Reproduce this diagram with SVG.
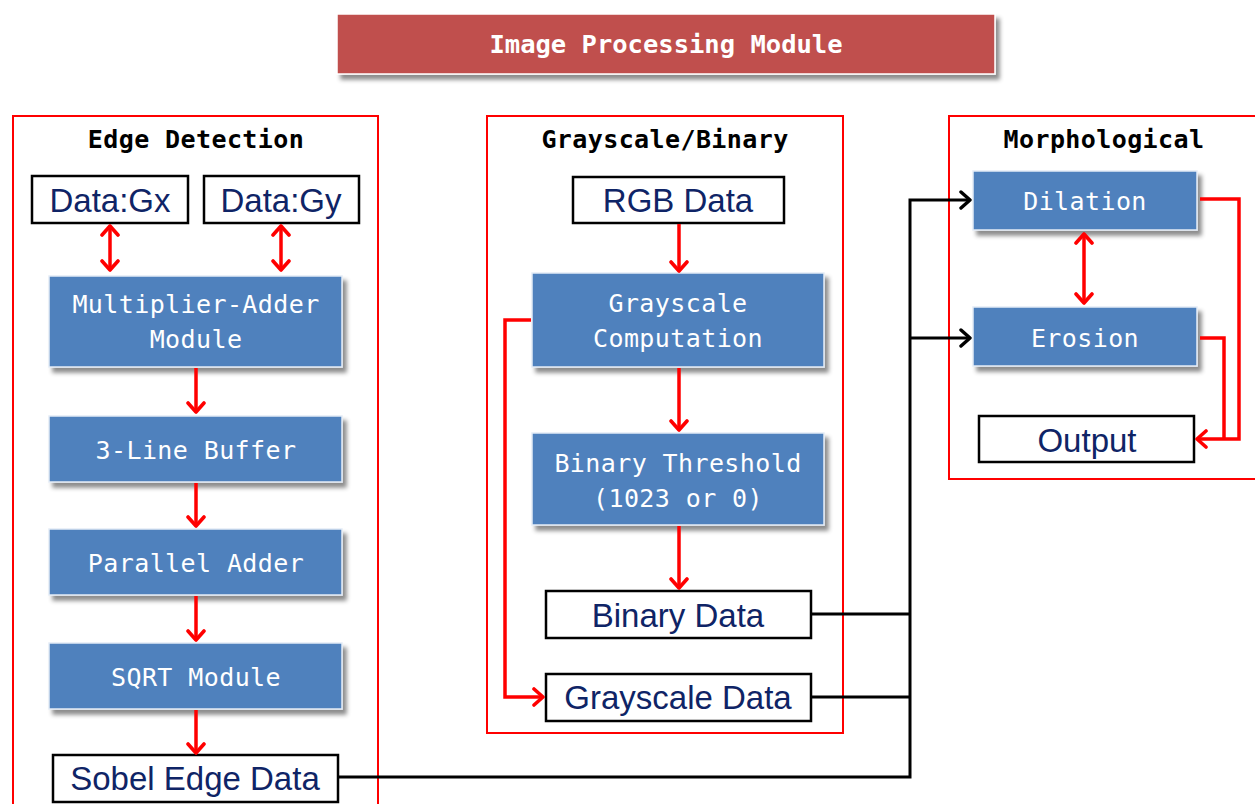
<svg xmlns="http://www.w3.org/2000/svg" width="1255" height="804" viewBox="0 0 1255 804">
  <style>
    .frame { fill: none; stroke: #FF0000; stroke-width: 2; }
    .block { fill: #4F81BD; stroke: #E4ECF6; stroke-width: 1.5; filter: url(#shadow); }
    .data { fill: #FFFFFF; stroke: #000000; stroke-width: 2.5; }
    .mono { font-family: "DejaVu Sans Mono", "Liberation Mono", monospace; font-size: 25px; letter-spacing: 0.4px; text-anchor: middle; }
    .btxt { fill: #FFFFFF; }
    .head { fill: #000000; font-weight: bold; }
    .dtxt { font-family: "Liberation Sans", Arial, sans-serif; font-size: 33px; fill: #0F2466; text-anchor: middle; }
    .red { fill: none; stroke: #FF0000; stroke-width: 3.5; }
    .blk { fill: none; stroke: #000000; stroke-width: 3; }
  </style>
  <defs>
    <filter id="shadow" x="-10%" y="-10%" width="130%" height="140%">
      <feDropShadow dx="4" dy="5" stdDeviation="2" flood-color="#000000" flood-opacity="0.45"/>
    </filter>
    <marker id="ar" viewBox="0 0 20 20" refX="12" refY="10" markerWidth="20" markerHeight="20" markerUnits="userSpaceOnUse" orient="auto-start-reverse">
      <path d="M3,2 L12,10 L3,18" fill="none" stroke="#FF0000" stroke-width="3.6" stroke-linecap="round" stroke-linejoin="round"/>
    </marker>
    <marker id="ak" viewBox="0 0 20 20" refX="12" refY="10" markerWidth="20" markerHeight="20" markerUnits="userSpaceOnUse" orient="auto">
      <path d="M3,2 L12,10 L3,18" fill="none" stroke="#000000" stroke-width="3.4" stroke-linecap="round" stroke-linejoin="round"/>
    </marker>
  </defs>

  <rect width="1255" height="804" fill="#FFFFFF"/>

  <!-- banner -->
  <g id="title">
    <rect x="337" y="14" width="658" height="60" fill="#C0504D" stroke="#FFFFFF" stroke-width="1.5" filter="url(#shadow)"/>
    <text x="666" y="53" class="mono btxt" style="font-size:25.5px;letter-spacing:0;font-weight:bold">Image Processing Module</text>
  </g>

  <!-- section frames -->
  <g id="edge-detection">
    <rect x="13" y="116" width="365" height="710" class="frame"/>
    <text x="196" y="148" class="mono head">Edge Detection</text>
  </g>
  <g id="grayscale-binary">
    <rect x="487" y="116" width="356" height="617" class="frame"/>
    <text x="665" y="148" class="mono head">Grayscale/Binary</text>
  </g>
  <g id="morphological">
    <rect x="949" y="116" width="330" height="363" class="frame"/>
    <text x="1104" y="148" class="mono head">Morphological</text>
  </g>

  <!-- edge detection nodes -->
  <g id="data-gx">
    <rect x="32" y="176" width="156" height="47" class="data"/>
    <text x="110" y="212" class="dtxt">Data:Gx</text>
  </g>
  <g id="data-gy">
    <rect x="204" y="176" width="155" height="47" class="data"/>
    <text x="281" y="212" class="dtxt">Data:Gy</text>
  </g>
  <g id="mult-adder">
    <rect x="49" y="276" width="293" height="91" class="block"/>
    <text x="196" y="313" class="mono btxt">Multiplier-Adder</text>
    <text x="196" y="348" class="mono btxt">Module</text>
  </g>
  <g id="line-buffer">
    <rect x="49" y="416" width="293" height="66" class="block"/>
    <text x="196" y="459" class="mono btxt">3-Line Buffer</text>
  </g>
  <g id="parallel-adder">
    <rect x="49" y="529" width="293" height="66" class="block"/>
    <text x="196" y="572" class="mono btxt">Parallel Adder</text>
  </g>
  <g id="sqrt-module">
    <rect x="49" y="643" width="293" height="66" class="block"/>
    <text x="196" y="686" class="mono btxt">SQRT Module</text>
  </g>
  <g id="sobel-data">
    <rect x="53" y="755" width="285" height="47" class="data"/>
    <text x="195" y="790" class="dtxt">Sobel Edge Data</text>
  </g>

  <!-- grayscale/binary nodes -->
  <g id="rgb-data">
    <rect x="573" y="177" width="211" height="46" class="data"/>
    <text x="678" y="212" class="dtxt">RGB Data</text>
  </g>
  <g id="gray-comp">
    <rect x="532" y="273" width="292" height="94" class="block"/>
    <text x="678" y="312" class="mono btxt">Grayscale</text>
    <text x="678" y="347" class="mono btxt">Computation</text>
  </g>
  <g id="bin-threshold">
    <rect x="532" y="433" width="292" height="92" class="block"/>
    <text x="678" y="472" class="mono btxt">Binary Threshold</text>
    <text x="678" y="507" class="mono btxt">(1023 or 0)</text>
  </g>
  <g id="binary-data">
    <rect x="546" y="591" width="265" height="47" class="data"/>
    <text x="678" y="627" class="dtxt">Binary Data</text>
  </g>
  <g id="gray-data">
    <rect x="546" y="674" width="265" height="47" class="data"/>
    <text x="678" y="709" class="dtxt">Grayscale Data</text>
  </g>

  <!-- morphological nodes -->
  <g id="dilation">
    <rect x="973" y="171" width="224" height="59" class="block"/>
    <text x="1085" y="210" class="mono btxt">Dilation</text>
  </g>
  <g id="erosion">
    <rect x="973" y="307" width="224" height="59" class="block"/>
    <text x="1085" y="347" class="mono btxt">Erosion</text>
  </g>
  <g id="output">
    <rect x="979" y="416" width="215" height="46" class="data"/>
    <text x="1087" y="452" class="dtxt">Output</text>
  </g>

  <!-- connectors -->
  <g id="connectors">
    <!-- edge detection chain -->
    <path d="M110,226 V270" class="red" marker-start="url(#ar)" marker-end="url(#ar)"/>
    <path d="M281,226 V270" class="red" marker-start="url(#ar)" marker-end="url(#ar)"/>
    <path d="M196,368 V412" class="red" marker-end="url(#ar)"/>
    <path d="M196,483 V526" class="red" marker-end="url(#ar)"/>
    <path d="M196,596 V640" class="red" marker-end="url(#ar)"/>
    <path d="M196,710 V753" class="red" marker-end="url(#ar)"/>

    <!-- grayscale/binary chain -->
    <path d="M679,224 V271" class="red" marker-end="url(#ar)"/>
    <path d="M679,368 V430" class="red" marker-end="url(#ar)"/>
    <path d="M679,526 V588" class="red" marker-end="url(#ar)"/>
    <path d="M531,320 H505 V697 H543" class="red" marker-end="url(#ar)"/>

    <!-- data buses into morphological -->
    <path d="M338,777 H910 V200 H970" class="blk" marker-end="url(#ak)"/>
    <path d="M811,614 H910" class="blk"/>
    <path d="M811,697 H910" class="blk"/>
    <path d="M910,338 H970" class="blk" marker-end="url(#ak)"/>

    <!-- morphological -->
    <path d="M1084,234 V303" class="red" marker-start="url(#ar)" marker-end="url(#ar)"/>
    <path d="M1200,199 H1239 V439 H1197" class="red" marker-end="url(#ar)"/>
    <path d="M1200,338 H1224 V439" class="red"/>
  </g>
</svg>
